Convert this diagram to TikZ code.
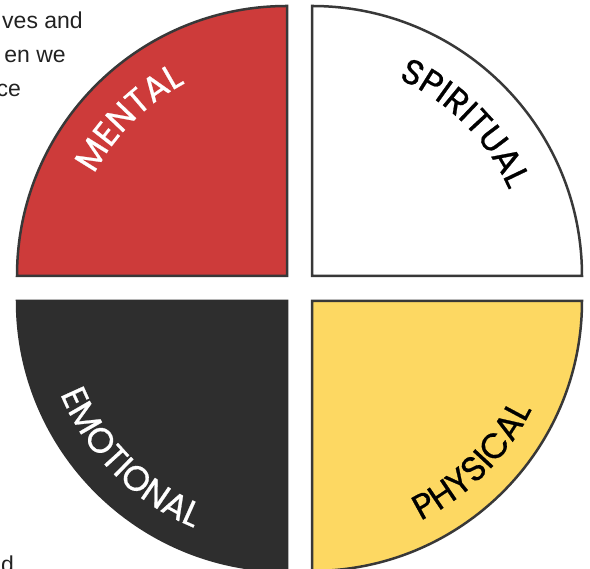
\documentclass[tikz,border=0pt]{standalone}
\usepackage{fontspec}
\setmainfont{Liberation Sans}
\newfontfamily\labelfont[FakeBold=0.7]{Poppins}
\usetikzlibrary{decorations.text}
\definecolor{edgegray}{HTML}{383838}
\definecolor{mentalred}{HTML}{CD3B3A}
\definecolor{physyellow}{HTML}{FDD862}
\definecolor{emodark}{HTML}{2E2E2E}
\definecolor{bodytext}{HTML}{222222}
\tikzset{
  quad/.style={draw=edgegray, line width=2.5pt, line join=miter},
  bodyfrag/.style={inner sep=0pt, text=bodytext, font=\fontsize{23}{23}\selectfont},
}
\newcommand{\lblsize}{\fontsize{35}{35}\selectfont\labelfont}
\begin{document}
\begin{tikzpicture}[x=1pt,y=1pt]
\useasboundingbox (0,0) rectangle (590,569);
\def\R{270}
\coordinate (ctl) at (287,293);
\coordinate (ctr) at (312,293);
\coordinate (cbl) at (287,268);
\coordinate (cbr) at (312,268);
% quadrants
\draw[quad, fill=mentalred] (ctl) -- ++(180:\R) arc[start angle=180, end angle=90, radius=\R] -- cycle;
\draw[quad, fill=white] (ctr) -- ++(90:\R) arc[start angle=90, end angle=0, radius=\R] -- cycle;
\draw[quad, draw=emodark, fill=emodark] (cbl) -- ++(180:\R) arc[start angle=180, end angle=270, radius=\R] -- cycle;
\draw[quad, fill=physyellow] (cbr) -- ++(0:\R) arc[start angle=0, end angle=-90, radius=\R] -- cycle;
% labels along arcs
\path[decorate, decoration={text along path, text align=center, text color=white,
  text={|\lblsize|MENTAL}}]
  (ctl) ++(175:218) arc[start angle=175, end angle=95, radius=218];
\path[decorate, decoration={text along path, text align=center, text color=black,
  text={|\lblsize|SPIRITUAL}}]
  (ctr) ++(86:215) arc[start angle=86, end angle=4, radius=215];
\path[decorate, decoration={text along path, text align=center, text color=white,
  text={|\lblsize|EMOTIONAL}}]
  (cbl) ++(183:245) arc[start angle=183, end angle=267, radius=245];
\path[decorate, decoration={text along path, text align=center, text color=black,
  text={|\lblsize|PHYSICAL}}]
  (cbr) ++(-87:245) arc[start angle=-87, end angle=-3, radius=245];
% cut-off body text fragments
\node[bodyfrag, anchor=base east] (t1) at (83,540) {ves and};
\node[bodyfrag, anchor=base east] (t2) at (66,506) {en we};
\node[bodyfrag, anchor=base east] (t3) at (21,472) {ce};
\node[bodyfrag, anchor=base east] (t4) at (14,-4) {d};
\end{tikzpicture}
\end{document}
